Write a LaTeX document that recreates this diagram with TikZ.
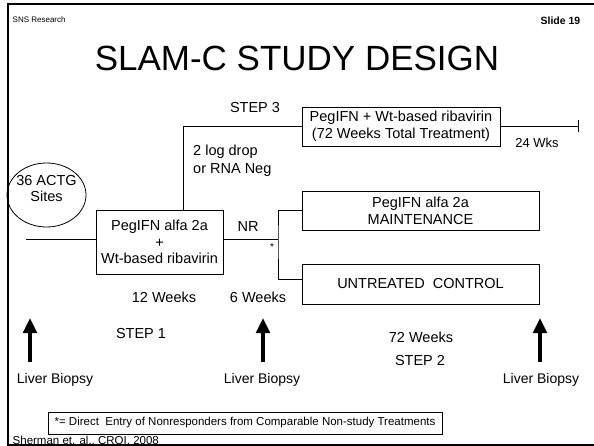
\documentclass[tikz,border=0pt]{standalone}
\usepackage{fontspec}
\setmainfont{Liberation Sans}
\usetikzlibrary{positioning,shapes.geometric,arrows.meta}

\tikzset{
    lbl/.style={font=\fontsize{14.5}{17}\selectfont, inner sep=0pt, align=center},
    armbox/.style={lbl, draw, line width=0.8pt},
    link/.style={line width=0.8pt},
    biopsyarrow/.style={line width=3.6pt, -{Triangle[width=13.5pt,length=15pt]}},
}

\begin{document}
\begin{tikzpicture}[x=1pt,y=-1pt]
    \useasboundingbox (0,0) rectangle (594,446);

    \node[lbl, font=\fontsize{8}{10}\selectfont, anchor=west] (org) at (12.5,20) {SNS Research};
    \node[lbl, font=\bfseries\fontsize{10.5}{12}\selectfont, anchor=east] (slideno) at (580.5,20.5) {Slide 19};
    \node[lbl, font=\fontsize{35}{40}\selectfont, anchor=base] (title) at (297,71) {SLAM-C STUDY DESIGN};

    \node[armbox, font=\fontsize{14.5}{16.5}\selectfont, minimum width=127pt, minimum height=64pt] (step1) at (159.5,242) {PegIFN alfa 2a\\+\\Wt-based ribavirin};
    \node[armbox, minimum width=198pt, minimum height=39pt] (step3) at (401,126.5) {PegIFN + Wt-based ribavirin\\(72 Weeks Total Treatment)};
    \node[armbox, minimum width=237pt, minimum height=39pt] (maint) at (420.5,210.5) {PegIFN alfa 2a\\MAINTENANCE};
    \node[armbox, minimum width=237pt, minimum height=40pt] (control) at (420.5,284) {UNTREATED\ \ CONTROL};
    \node[draw, ellipse, line width=0.8pt, minimum width=79pt, minimum height=64pt] (sites) at (46.5,195) {};
    \node[lbl, font=\fontsize{14.5}{16}\selectfont] (sitestext) at (46.5,189) {36 ACTG\\Sites};

    \coordinate (entry) at (26,239);
    \coordinate (split) at (278,239);
    \coordinate (riser) at ([xshift=23.5pt]step1.north);
    \coordinate (finish) at (578,126.5);
    \draw[link] (entry) -- (entry -| step1.west);
    \draw[link] (split -| step1.east) -- (split);
    \draw[link] (maint.west) -| (split) |- ([yshift=5pt]control.west);
    \draw[link] (riser) |- (step3.west);
    \draw[link] (step3.east) -- (finish);
    \draw[link] ([yshift=6pt]finish) -- ([yshift=-6pt]finish);

    \node[lbl] (step3lbl) at (255,107.5) {STEP 3};
    \node[lbl, font=\fontsize{13}{15}\selectfont] (wks24) at (537,143) {24 Wks};
    \node[lbl, anchor=west, align=left, font=\fontsize{14.5}{18}\selectfont] (response) at (193,161) {2 log drop\\or RNA Neg};
    \node[lbl] (nr) at (248,227) {NR};
    \node[lbl, font=\fontsize{10}{12}\selectfont] (star) at (272,247) {*};
    \node[lbl] (wk12) at (164,297) {12 Weeks};
    \node[lbl] (wk6) at (258,297) {6 Weeks};
    \node[lbl] (step1lbl) at (141,334) {STEP 1};
    \node[lbl] (wk72) at (421,337) {72 Weeks};
    \node[lbl] (step2lbl) at (420,361) {STEP 2};

    \foreach \x/\lx/\name in {30/55/a, 263/262/b, 540/541/c} {
        \coordinate (foot\name) at (\x,362);
        \coordinate (tip\name) at (\x,318);
        \draw[biopsyarrow] (foot\name) -- (tip\name);
        \node[lbl, font=\fontsize{14}{16}\selectfont] (biopsy\name) at (\lx,380) {Liver Biopsy};
    }

    \node[lbl, draw, line width=0.8pt, font=\fontsize{11.5}{13}\selectfont, minimum width=394pt, minimum height=22pt] (note) at (245,423) {*= Direct\ \ Entry of Nonresponders from Comparable Non-study Treatments};
    \node[lbl, font=\fontsize{11.5}{13}\selectfont, anchor=base west] (source) at (12.5,444) {Sherman et. al., CROI, 2008};

    \draw[line width=2pt] (594,4.5) -- (8.3,4.5) -- (8.3,444.5) -- (594,444.5);
\end{tikzpicture}
\end{document}
